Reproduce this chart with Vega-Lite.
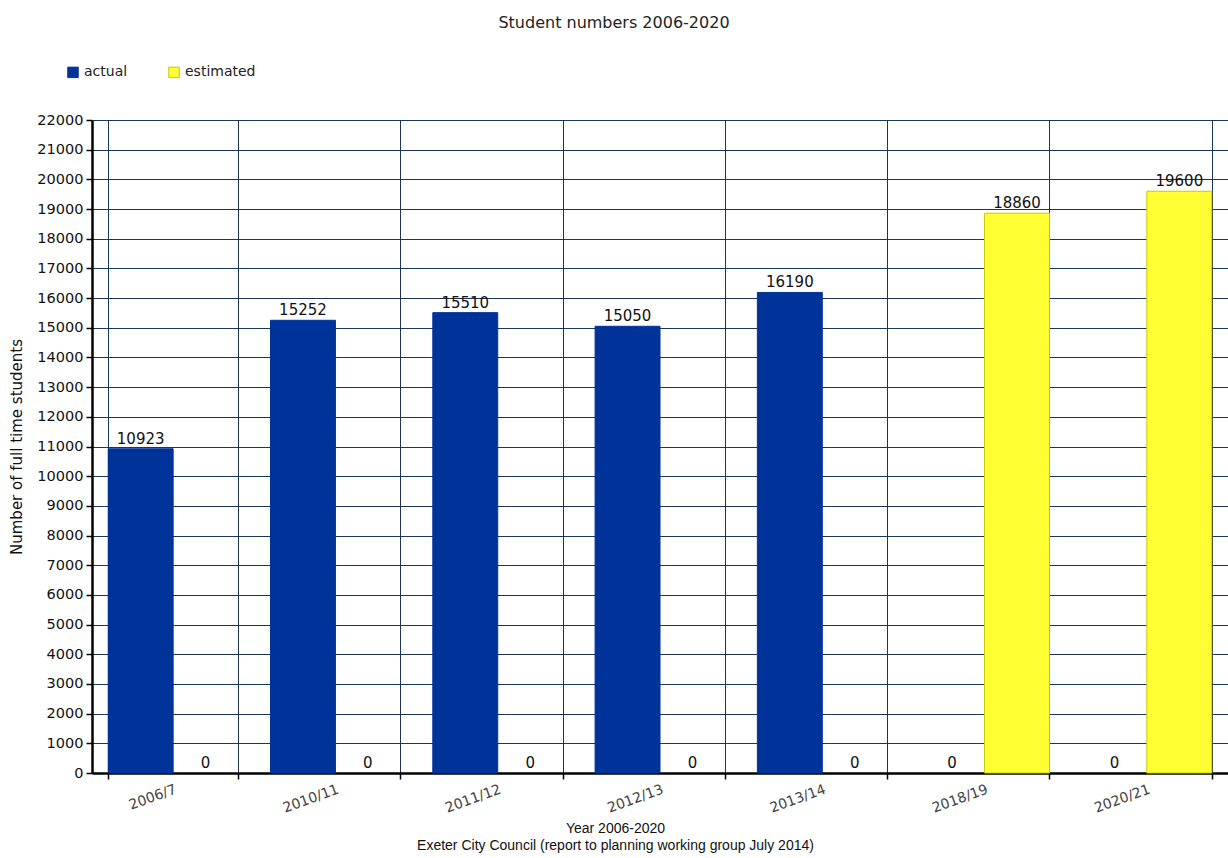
{
  "$schema": "https://vega.github.io/schema/vega-lite/v6.json",
  "width": 1136,
  "height": 653,
  "autosize": "none",
  "padding": {"left": 92, "top": 120, "right": 0, "bottom": 85},
  "background": "white",
  "title": {
    "text": "Student numbers 2006-2020",
    "fontSize": 16,
    "fontWeight": "normal",
    "font": "DejaVu Sans",
    "color": "#222222",
    "anchor": "middle",
    "dx": -46,
    "offset": 34
  },
  "config": {
    "view": {"stroke": null},
    "font": "Liberation Sans"
  },
  "data": {
    "values": [
      {"year": "2006/7", "series": "actual", "students": 10923},
      {"year": "2006/7", "series": "estimated", "students": 0},
      {"year": "2010/11", "series": "actual", "students": 15252},
      {"year": "2010/11", "series": "estimated", "students": 0},
      {"year": "2011/12", "series": "actual", "students": 15510},
      {"year": "2011/12", "series": "estimated", "students": 0},
      {"year": "2012/13", "series": "actual", "students": 15050},
      {"year": "2012/13", "series": "estimated", "students": 0},
      {"year": "2013/14", "series": "actual", "students": 16190},
      {"year": "2013/14", "series": "estimated", "students": 0},
      {"year": "2018/19", "series": "actual", "students": 0},
      {"year": "2018/19", "series": "estimated", "students": 18860},
      {"year": "2020/21", "series": "actual", "students": 0},
      {"year": "2020/21", "series": "estimated", "students": 19600}
    ]
  },
  "encoding": {
    "x": {
      "field": "year",
      "type": "nominal",
      "sort": null,
      "scale": {"paddingInner": 0.2, "paddingOuter": 0.1},
      "axis": {
        "title": ["Year 2006-2020", "Exeter City Council (report to planning working group July 2014)"],
        "titleFontSize": 14,
        "titleFontWeight": "normal",
        "titleColor": "#111111",
        "titleX": 523,
        "titlePadding": 6,
        "titleLineHeight": 17,
        "labelAngle": -20,
        "labelAlign": "right",
        "labelBaseline": "top",
        "labelFont": "DejaVu Sans",
        "labelFontSize": 14,
        "labelColor": "#444444",
        "labelPadding": 3,
        "labelDx": 6,
        "tickBand": "extent",
        "tickColor": "#000000",
        "tickSize": 6,
        "tickWidth": 1.5,
        "domainColor": "#000000",
        "domainWidth": 2.5,
        "grid": true,
        "gridColor": "#1c3554",
        "gridWidth": 1,
        "gridOpacity": 1
      }
    },
    "xOffset": {
      "field": "series",
      "type": "nominal",
      "scale": {"paddingInner": 0, "paddingOuter": 0}
    },
    "y": {
      "field": "students",
      "type": "quantitative",
      "scale": {"domain": [0, 22000], "nice": false},
      "axis": {
        "title": "Number of full time students",
        "titleFont": "DejaVu Sans",
        "titleFontSize": 15,
        "titleFontWeight": "normal",
        "titleColor": "#111111",
        "titlePadding": 12,
        "values": [0, 1000, 2000, 3000, 4000, 5000, 6000, 7000, 8000, 9000, 10000, 11000, 12000, 13000, 14000, 15000, 16000, 17000, 18000, 19000, 20000, 21000, 22000],
        "format": "d",
        "labelFont": "DejaVu Sans",
        "labelFontSize": 14.5,
        "labelColor": "#111111",
        "labelPadding": 3,
        "tickColor": "#000000",
        "tickSize": 6,
        "tickWidth": 1.5,
        "domainColor": "#000000",
        "domainWidth": 2.5,
        "gridColor": "#1c3554",
        "gridWidth": 1,
        "gridOpacity": 1
      }
    }
  },
  "layer": [
    {
      "mark": {"type": "bar", "strokeWidth": 1},
      "encoding": {
        "color": {
          "field": "series",
          "type": "nominal",
          "scale": {"domain": ["actual", "estimated"], "range": ["#003399", "#ffff33"]},
          "legend": {
            "title": null,
            "orient": "none",
            "direction": "horizontal",
            "legendX": -26,
            "legendY": -55,
            "symbolType": "square",
            "symbolSize": 110,
            "symbolStrokeColor": "#000000",
            "symbolStrokeWidth": 1,
            "symbolOpacity": 1,
            "labelFont": "DejaVu Sans",
            "labelFontSize": 14,
            "labelColor": "#222222",
            "columnPadding": 38
          }
        },
        "stroke": {
          "field": "series",
          "type": "nominal",
          "scale": {"domain": ["actual", "estimated"], "range": ["#003399", "#c8c800"]},
          "legend": null
        },
        "strokeOpacity": {
          "condition": {"test": "datum.students > 0", "value": 1},
          "value": 0
        }
      }
    },
    {
      "mark": {"type": "text", "baseline": "bottom", "dy": -2, "font": "DejaVu Sans", "fontSize": 15, "color": "#111111"},
      "encoding": {
        "text": {"field": "students", "type": "quantitative", "format": "d"}
      }
    }
  ]
}
